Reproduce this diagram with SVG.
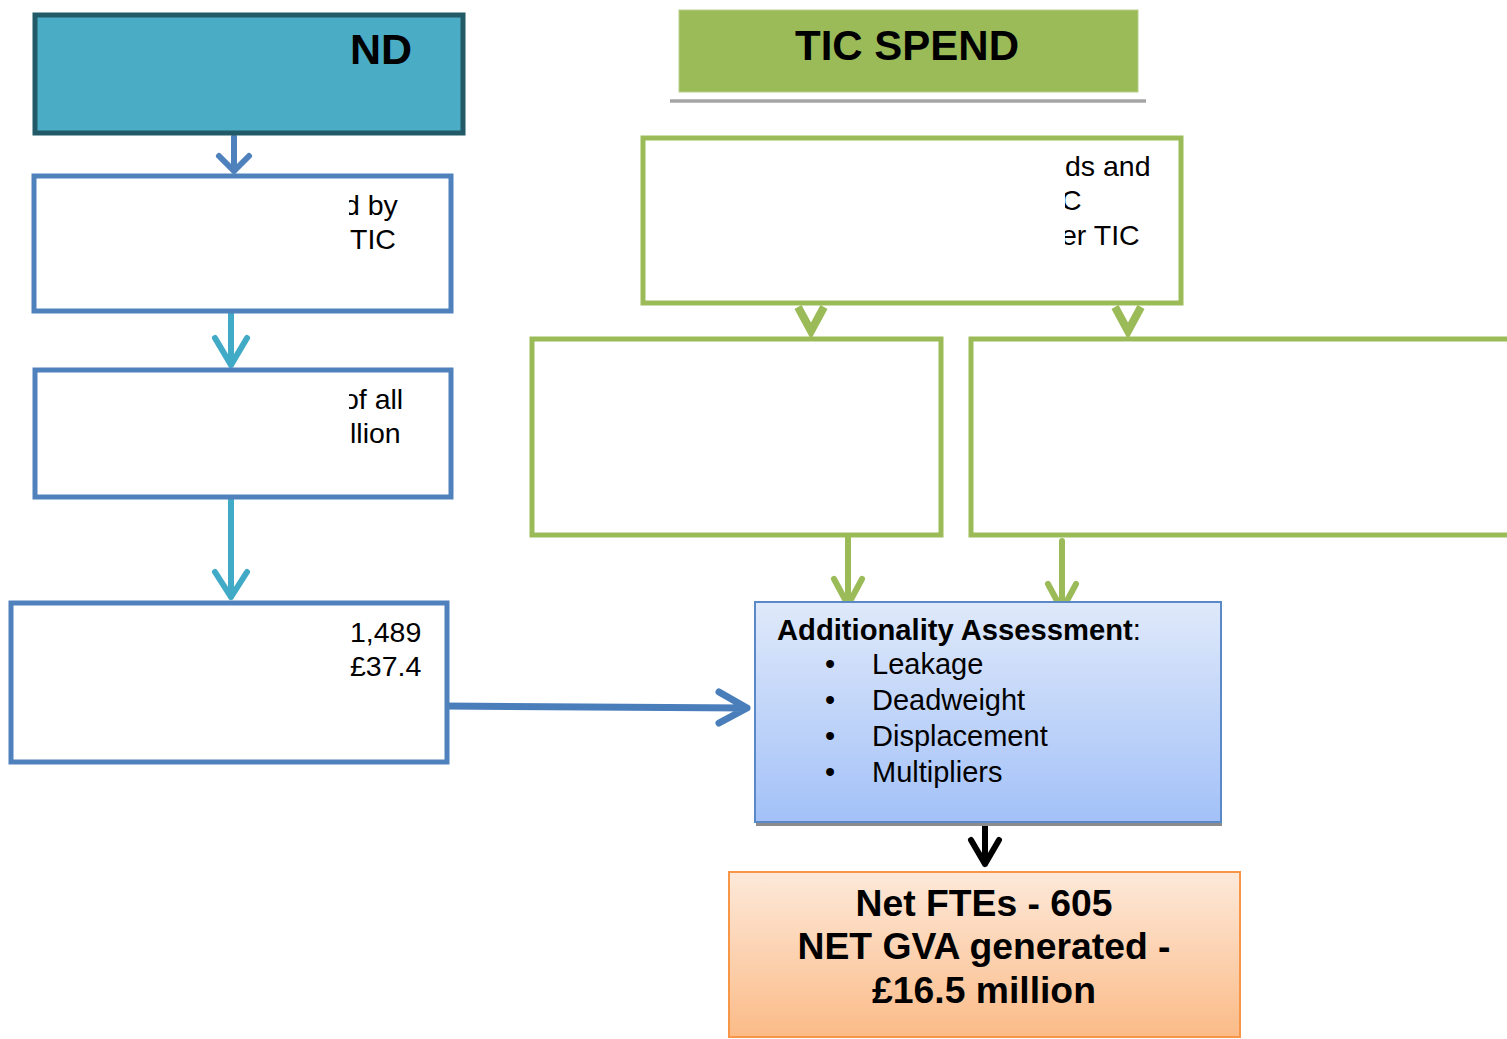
<svg xmlns="http://www.w3.org/2000/svg" width="1507" height="1039" viewBox="0 0 1507 1039">
<style>
.t{font-family:"Liberation Sans",Arial,sans-serif;fill:#000}
.r{font-size:28.5px}
.b{font-weight:bold}
.blue{fill:#fff;stroke:#4F81BD;stroke-width:5}
.green{fill:#fff;stroke:#9BBB59;stroke-width:5}
.ar{fill:none;stroke-linecap:round;stroke-linejoin:round}
</style>
<defs>
<linearGradient id="gb" x1="0" y1="0" x2="0" y2="1"><stop offset="0" stop-color="#DFE9FA"/><stop offset="1" stop-color="#A3C1F8"/></linearGradient>
<linearGradient id="go" x1="0" y1="0" x2="0" y2="1"><stop offset="0" stop-color="#FDE9DA"/><stop offset="1" stop-color="#FBBB87"/></linearGradient>
<linearGradient id="gs" x1="0" y1="0" x2="0" y2="1"><stop offset="0" stop-color="#C8C8C8"/><stop offset="0.5" stop-color="#999"/><stop offset="1" stop-color="#C8C8C8"/></linearGradient>
<clipPath id="cl"><rect x="349" y="0" width="200" height="1039"/></clipPath>
<clipPath id="cr"><rect x="1065" y="0" width="200" height="1039"/></clipPath>
</defs>

<g id="connectors">
<g class="ar" stroke="#4F81BD" stroke-width="6">
<path d="M234 137V171M219 156L234 171L249 156"/>
<path d="M443 706L747 708M719 692L747 708L719 723" stroke="#4A7EBB" stroke-width="7"/>
</g>
<g class="ar" stroke="#41AAC6" stroke-width="6">
<path d="M231 313L231 365M215 338L231 365L247 338"/>
<path d="M231 499V597M215 572L231 597L247 572"/>
</g>
<g class="ar" stroke="#9BBB59" stroke-width="6">
<path d="M848 538V605M834 579L848 605L862 579"/>
<path d="M1062 541V610M1048 584L1062 610L1076 584"/>
</g>
<g stroke="#9BBB59" stroke-width="8" fill="none" stroke-linejoin="miter">
<path d="M798 307L811 331L824 307"/>
<path d="M1115 307L1128 331L1141 307"/>
</g>
<path class="ar" d="M985 822V864M971 840L985 864L999 840" stroke="#000" stroke-width="6"/>
</g>

<g id="spend-left">
<rect x="35" y="15" width="428" height="118" fill="#4BACC6" stroke="#235A68" stroke-width="5"/>
<text class="t b" x="350" y="64" font-size="43">ND</text>
</g>

<g id="box-l1">
<rect class="blue" x="34" y="176" width="417" height="135"/>
<g clip-path="url(#cl)"><text class="t r" x="344" y="215">d by</text></g>
<text class="t r" x="350" y="249">TIC</text>
</g>

<g id="box-l2">
<rect class="blue" x="35" y="370" width="416" height="127"/>
<g clip-path="url(#cl)"><text class="t r" x="343" y="409">of all</text><text class="t r" x="350" y="443">llion</text></g>
</g>

<g id="box-l3">
<rect class="blue" x="11" y="603" width="436" height="159"/>
<text class="t r" x="350" y="642">1,489</text>
<text class="t r" x="350" y="676">£37.4</text>
</g>

<g id="tic-spend">
<rect x="670" y="99" width="476" height="4" fill="url(#gs)"/>
<rect x="679" y="10" width="459" height="82" fill="#9BBB59" stroke="#B7CF8A" stroke-width="1"/>
<text class="t b" x="907" y="60" font-size="42" text-anchor="middle">TIC SPEND</text>
</g>

<g id="box-r-top">
<rect class="green" x="643" y="138" width="538" height="165"/>
<g clip-path="url(#cr)">
<text class="t r" x="1065" y="176">ds and</text>
<text class="t r" x="1061" y="210">C</text>
<text class="t r" x="1061" y="245">er TIC</text>
</g>
</g>

<g id="box-r-left">
<rect class="green" x="532" y="339" width="409" height="196"/>
</g>

<g id="box-r-right">
<rect class="green" x="971" y="339" width="545" height="196"/>
</g>

<g id="additionality">
<rect x="756" y="822" width="466" height="4" fill="#8C8C8C"/>
<rect x="755" y="602" width="466" height="220" fill="url(#gb)" stroke="#5B89C7" stroke-width="2"/>
<text class="t" x="777" y="640" font-size="29.2"><tspan font-weight="bold">Additionality Assessment</tspan>:</text>
<g class="t" font-size="29">
<text x="825" y="674">•</text><text x="872" y="674">Leakage</text>
<text x="825" y="710">•</text><text x="872" y="710">Deadweight</text>
<text x="825" y="746">•</text><text x="872" y="746">Displacement</text>
<text x="825" y="782">•</text><text x="872" y="782">Multipliers</text>
</g>
</g>

<g id="net-result">
<rect x="729" y="872" width="511" height="165" fill="url(#go)" stroke="#F79646" stroke-width="2"/>
<g class="t b" font-size="37.3" text-anchor="middle">
<text x="984" y="916">Net FTEs - 605</text>
<text x="984" y="959">NET GVA generated -</text>
<text x="984" y="1003">£16.5 million</text>
</g>
</g>
</svg>
